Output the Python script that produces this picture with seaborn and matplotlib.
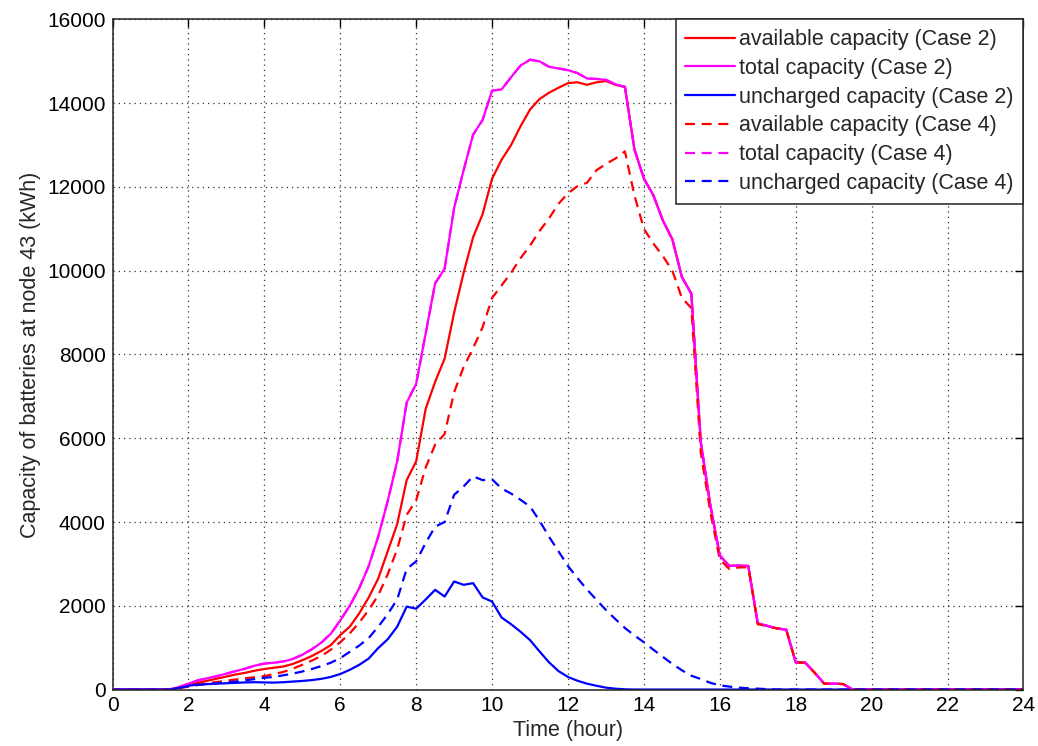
import numpy as np
import pandas as pd
import matplotlib
matplotlib.use("Agg")
import matplotlib.pyplot as plt
import seaborn as sns

# ---- data (15-minute resolution, hours 0..24) ----
time_hour = np.arange(0, 24.001, 0.25)

total_capacity = [
    0, 0, 0, 0, 0, 0, 0, 60,          # 0.00 - 1.75
    140, 220, 270, 320, 380, 440, 500, 570,      # 2.00 - 3.75
    620, 640, 670, 730, 830, 960, 1120, 1330,    # 4.00 - 5.75
    1650, 2000, 2420, 2950, 3650, 4500, 5450, 6850,   # 6.00 - 7.75
    7300, 8500, 9700, 10050, 11500, 12400, 13250, 13600,  # 8.00 - 9.75
    14300, 14330, 14620, 14900, 15040, 15000, 14870, 14830,  # 10.00 - 11.75
    14790, 14720, 14590, 14580, 14560, 14450, 14390, 12900,  # 12.00 - 13.75
    12200, 11800, 11200, 10750, 9850, 9450, 5900, 4400,  # 14.00 - 15.75
    3200, 2950, 2960, 2950, 1580, 1520, 1460, 1430,      # 16.00 - 17.75
    650, 640, 400, 140, 140, 130, 0, 0,                  # 18.00 - 19.75
    0, 0, 0, 0, 0, 0, 0, 0,                              # 20.00 - 21.75
    0, 0, 0, 0, 0, 0, 0, 0,                              # 22.00 - 23.75
    0,                                                   # 24.00
]

available_case2 = [
    0, 0, 0, 0, 0, 0, 0, 40,
    100, 160, 210, 260, 310, 360, 400, 450,
    490, 520, 550, 610, 700, 800, 920, 1060,
    1300, 1500, 1820, 2200, 2650, 3300, 3950, 5000,
    5450, 6700, 7350, 7900, 9000, 9950, 10800, 11350,
    12200, 12650, 13000, 13450, 13850, 14100, 14250, 14370,
    14480, 14500, 14440, 14500, 14530, 14440, 14390, 12900,
    12200, 11800, 11200, 10750, 9850, 9450, 5900, 4400,
    3200, 2950, 2960, 2950, 1580, 1520, 1460, 1430,
    650, 640, 400, 140, 140, 130, 0, 0,
    0, 0, 0, 0, 0, 0, 0, 0,
    0, 0, 0, 0, 0, 0, 0, 0,
    0,
]

uncharged_case2 = [
    0, 0, 0, 0, 0, 0, 0, 40,
    90, 120, 130, 140, 150, 160, 170, 175,
    170, 165, 175, 190, 205, 225, 255, 300,
    370, 470, 590, 740, 990, 1200, 1500, 1980,
    1930, 2150, 2380, 2220, 2580, 2500, 2540, 2200,
    2100, 1720, 1560, 1380, 1180, 910, 650, 440,
    300, 210, 140, 90, 45, 20, 5, 0,
    0, 0, 0, 0, 0, 0, 0, 0,
    0, 0, 0, 0, 0, 0, 0, 0,
    0, 0, 0, 0, 0, 0, 0, 0,
    0, 0, 0, 0, 0, 0, 0, 0,
    0, 0, 0, 0, 0, 0, 0, 0,
    0,
]

available_case4 = [
    0, 0, 0, 0, 0, 0, 0, 30,
    70, 110, 150, 180, 210, 240, 270, 295,
    320, 370, 420, 500, 590, 690, 800, 950,
    1130, 1340, 1600, 1900, 2250, 2750, 3350, 4170,
    4520, 5300, 5850, 6100, 7100, 7700, 8150, 8650,
    9350, 9650, 9950, 10300, 10600, 10950, 11250, 11600,
    11850, 12020, 12100, 12400, 12550, 12680, 12850, 11800,
    11000, 10650, 10350, 10000, 9350, 9110, 5650, 4240,
    3100, 2880, 2915, 2920, 1560, 1510, 1460, 1430,
    650, 640, 400, 140, 140, 130, 0, 0,
    0, 0, 0, 0, 0, 0, 0, 0,
    0, 0, 0, 0, 0, 0, 0, 0,
    0,
]

uncharged_case4 = [
    0, 0, 0, 0, 0, 0, 0, 40,
    80, 110, 130, 150, 170, 190, 220, 250,
    280, 300, 340, 380, 430, 490, 560, 640,
    750, 900, 1050, 1230, 1500, 1800, 2150, 2880,
    3060, 3500, 3890, 4000, 4650, 4850, 5090, 5000,
    5020, 4800, 4680, 4530, 4370, 4030, 3650, 3300,
    2950, 2660, 2390, 2140, 1900, 1680, 1470, 1290,
    1130, 950, 780, 610, 460, 330, 250, 160,
    100, 70, 45, 30, 20, 10, 0, 0,
    0, 0, 0, 0, 0, 0, 0, 0,
    0, 0, 0, 0, 0, 0, 0, 0,
    0, 0, 0, 0, 0, 0, 0, 0,
    0,
]

series_labels = [
    "available capacity (Case 2)",
    "total capacity (Case 2)",
    "uncharged capacity (Case 2)",
    "available capacity (Case 4)",
    "total capacity (Case 4)",
    "uncharged capacity (Case 4)",
]
series_values = [available_case2, total_capacity, uncharged_case2,
                 available_case4, total_capacity, uncharged_case4]
series_colors = ["#ff0000", "#ff00ff", "#0000ff", "#ff0000", "#ff00ff", "#0000ff"]
series_dashed = [False, False, False, True, True, True]

x_ticks = list(range(0, 25, 2))
y_ticks = list(range(0, 16001, 2000))

# ---- plotting ----
sns.set_style("white")
plt.rcParams["font.family"] = ["Liberation Sans", "DejaVu Sans"]

fig = plt.figure(figsize=(10.38, 7.46), dpi=100)
ax = fig.add_axes([0.1084, 0.0757, 0.8776, 0.8982])

for lab, vals, col, dashed in zip(series_labels, series_values, series_colors, series_dashed):
    df = pd.DataFrame({"t": time_hour, "v": vals})
    line_ax = sns.lineplot(data=df, x="t", y="v", ax=ax, color=col, lw=1.6,
                           label=lab, estimator=None, sort=False)
    ln = line_ax.get_lines()[-1]
    if dashed:
        ln.set_dashes((4.5, 3.0))
    ln.set_solid_joinstyle("round")

ax.set_xlim(0, 24)
ax.set_ylim(0, 16000)
ax.set_xticks(x_ticks)
ax.set_yticks(y_ticks)
ax.tick_params(direction="in", length=6, width=1, top=True, right=True,
               labelsize=15, colors="black", pad=5)
ax.grid(True, color="#333333", linestyle=(0, (1, 3.2)), linewidth=0.9)
for s in ax.spines.values():
    s.set_visible(True)
    s.set_color("#222222")
    s.set_linewidth(1.1)

ax.set_xlabel("Time (hour)", fontsize=15.5, labelpad=3)
ax.set_ylabel("Capacity of batteries at node 43 (kWh)", fontsize=15.5, labelpad=4)

leg = ax.legend(loc="upper right", fontsize=15.5, frameon=True, fancybox=False,
                edgecolor="#222222", framealpha=1, borderaxespad=0.0,
                handlelength=2.3, handletextpad=0.2, labelspacing=0.36,
                borderpad=0.45)
leg.get_frame().set_linewidth(1.1)

fig.savefig("out.png", dpi=100)
